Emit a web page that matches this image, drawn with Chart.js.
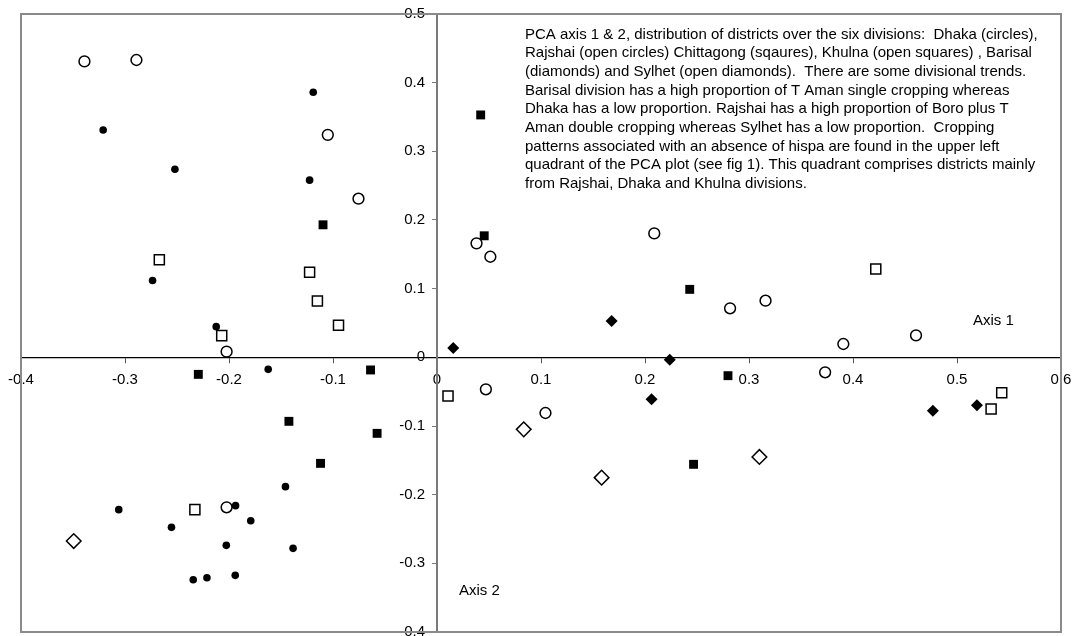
<!DOCTYPE html>
<html>
<head>
<meta charset="utf-8">
<title>PCA axis 1 & 2</title>
<script src="https://cdn.jsdelivr.net/npm/chart.js@4"></script>
<style>
  html, body { margin: 0; padding: 0; background: #fff; }
  canvas { display: block; }
</style>
</head>
<body>
<canvas id="pca" width="1076" height="636"></canvas>
<script>
// --- district scores on PCA axis 1 (x) and axis 2 (y), by division ---
const dhaka = [
  [-0.119, 0.386], [-0.321, 0.331], [-0.252, 0.274], [-0.1225, 0.258],
  [-0.2735, 0.112], [-0.2123, 0.0447], [-0.1623, -0.0175], [-0.1457, -0.1883],
  [-0.306, -0.2218], [-0.1937, -0.216], [-0.2553, -0.2476], [-0.1791, -0.2379],
  [-0.2026, -0.2738], [-0.1384, -0.2782], [-0.2344, -0.3238], [-0.2212, -0.3209],
  [-0.194, -0.3175]
];
const rajshai = [
  [-0.339, 0.431], [-0.289, 0.433], [-0.105, 0.324], [-0.0755, 0.231],
  [0.038, 0.166], [0.0513, 0.1465], [-0.2023, 0.0083], [0.047, -0.0466],
  [-0.2023, -0.2184], [0.2089, 0.1805], [0.2818, 0.0714], [0.3159, 0.0825],
  [0.4606, 0.032], [0.3907, 0.0194], [0.3732, -0.0218], [0.1043, -0.0811]
];
const chittagong = [
  [0.042, 0.353], [-0.1096, 0.193], [0.0454, 0.177], [-0.2295, -0.0248],
  [-0.0639, -0.0184], [-0.1424, -0.0932], [-0.0576, -0.1107], [-0.112, -0.1544],
  [0.243, 0.099], [0.2798, -0.0267], [0.2467, -0.1558]
];
const khulna = [
  [-0.267, 0.142], [-0.1225, 0.124], [-0.115, 0.082], [-0.207, 0.0316],
  [-0.0947, 0.0466], [0.0106, -0.0563], [-0.2328, -0.2218], [0.4219, 0.1286],
  [0.543, -0.0515], [0.5328, -0.0752]
];
const barisal = [
  [0.0156, 0.0136], [0.1679, 0.0529], [0.2238, -0.0034], [0.2063, -0.0612],
  [0.5192, -0.0699], [0.4768, -0.0777]
];
const sylhet = [
  [0.0834, -0.1049], [-0.3493, -0.2675], [0.31, -0.1451], [0.1583, -0.1752]
];

// axis ticks
const xTickValues = [-0.4, -0.3, -0.2, -0.1, 0, 0.1, 0.2, 0.3, 0.4, 0.5, 0.6];
const xTickLabels = ['-0.4', '-0.3', '-0.2', '-0.1', '0', '0.1', '0.2', '0.3', '0.4', '0.5', '0.6'];
const yTickValues = [-0.4, -0.3, -0.2, -0.1, 0, 0.1, 0.2, 0.3, 0.4, 0.5];
const yTickLabels = ['-0.4', '-0.3', '-0.2', '-0.1', '0', '0.1', '0.2', '0.3', '0.4', '0.5'];

const noteLines = [
  'PCA axis 1 & 2, distribution of districts over the six divisions:  Dhaka (circles),',
  'Rajshai (open circles) Chittagong (sqaures), Khulna (open squares) , Barisal',
  '(diamonds) and Sylhet (open diamonds).  There are some divisional trends.',
  'Barisal division has a high proportion of T Aman single cropping whereas',
  'Dhaka has a low proportion. Rajshai has a high proportion of Boro plus T',
  'Aman double cropping whereas Sylhet has a low proportion.  Cropping',
  'patterns associated with an absence of hispa are found in the upper left',
  'quadrant of the PCA plot (see fig 1). This quadrant comprises districts mainly',
  'from Rajshai, Dhaka and Khulna divisions.'
];

const FONT = '"Liberation Sans", Arial, sans-serif';

const toPoints = (arr) => arr.map(([x, y]) => ({ x, y }));

function series(label, data, style, radius, filled) {
  return {
    label,
    data: toPoints(data),
    pointStyle: style,
    pointRadius: radius,
    pointBackgroundColor: filled ? '#000' : '#fff',
    pointBorderColor: '#000',
    pointBorderWidth: filled ? 0 : 1.5,
    showLine: false
  };
}

// frame around the plot area, y axis moved onto x = 0, free text
const decorations = {
  id: 'decorations',
  afterLayout(chart) {
    // the y scale takes no room in the layout; park it on x = 0 so its
    // labels sit left of the vertical axis (label clip box = left..right)
    const ys = chart.scales.y;
    const x0 = chart.scales.x.getPixelForValue(0);
    ys.left = x0 - 60;
    ys.right = x0;
  },
  beforeDatasetsDraw(chart) {
    const { ctx, chartArea: a } = chart;
    ctx.save();
    ctx.strokeStyle = '#8a8a8a';
    ctx.lineWidth = 2;
    ctx.strokeRect(a.left, a.top, a.right - a.left, a.bottom - a.top);
    ctx.restore();
  },
  afterDraw(chart) {
    const { ctx } = chart;
    ctx.save();
    ctx.fillStyle = '#000';
    ctx.textBaseline = 'alphabetic';
    ctx.textAlign = 'left';
    ctx.font = '15px ' + FONT;
    noteLines.forEach((line, i) => ctx.fillText(line, 525, 38.5 + i * 18.7));
    ctx.fillText('Axis 1', 973, 325);
    ctx.fillText('Axis 2', 459, 595);
    ctx.restore();
  }
};

function fixedTicks(values) {
  return (scale) => { scale.ticks = values.map((v) => ({ value: v })); };
}
function noPadding(scale) {
  scale.paddingTop = 0;
  scale.paddingBottom = 0;
  scale.paddingLeft = 0;
  scale.paddingRight = 0;
}

new Chart(document.getElementById('pca'), {
  type: 'scatter',
  data: {
    datasets: [
      series('Dhaka', dhaka, 'circle', 3.8, true),
      series('Rajshai', rajshai, 'circle', 5.4, false),
      series('Chittagong', chittagong, 'rect', 6.3, true),
      series('Khulna', khulna, 'rect', 7.1, false),
      series('Barisal', barisal, 'rectRot', 6, true),
      series('Sylhet', sylhet, 'rectRot', 7.3, false)
    ]
  },
  options: {
    responsive: false,
    animation: false,
    events: [],
    layout: { autoPadding: false, padding: { left: 21, top: 14, right: 15, bottom: 4 } },
    plugins: {
      legend: { display: false },
      tooltip: { enabled: false }
    },
    scales: {
      x: {
        type: 'linear',
        min: -0.4,
        max: 0.6,
        position: { y: 0 },
        afterBuildTicks: fixedTicks(xTickValues),
        afterFit: noPadding,
        border: { display: true, color: '#000', width: 1.3 },
        grid: { drawOnChartArea: false, drawTicks: true, tickLength: 5, color: '#555' },
        ticks: {
          autoSkip: false,
          maxRotation: 0,
          padding: 9,
          color: '#000',
          font: { family: FONT, size: 15 },
          callback: (v) => xTickLabels[xTickValues.findIndex((t) => Math.abs(t - v) < 1e-9)]
        }
      },
      y: {
        type: 'linear',
        min: -0.4,
        max: 0.5,
        position: 'left',
        afterBuildTicks: fixedTicks(yTickValues),
        afterFit(scale) {
          noPadding(scale);
          scale.width = 0;
        },
        border: { display: true, color: '#7a7a7a', width: 2 },
        grid: { drawOnChartArea: false, drawTicks: true, tickLength: 5, color: '#7a7a7a' },
        ticks: {
          autoSkip: false,
          padding: 7,
          color: '#000',
          font: { family: FONT, size: 15 },
          callback: (v) => yTickLabels[yTickValues.findIndex((t) => Math.abs(t - v) < 1e-9)]
        }
      }
    }
  },
  plugins: [decorations]
});
</script>
</body>
</html>
